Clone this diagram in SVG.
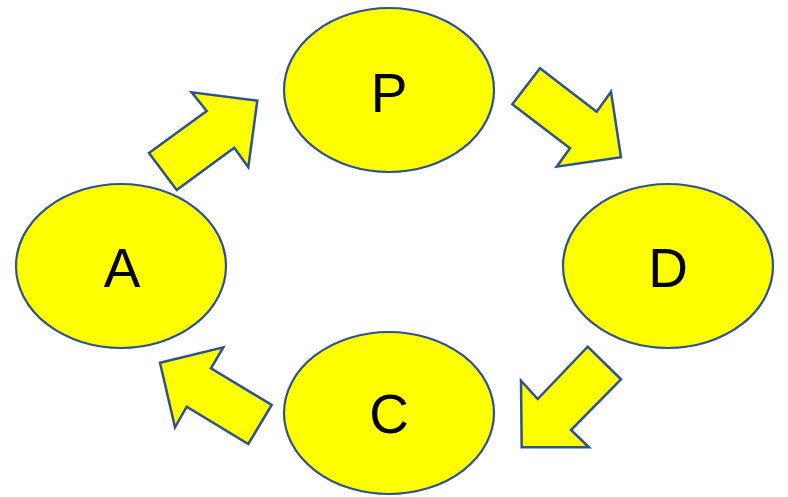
<svg xmlns="http://www.w3.org/2000/svg" width="788" height="497" viewBox="0 0 788 497">
<style>
.n{fill:#FFFF00;stroke:#2F528F;stroke-width:2.2}
.t{font-family:"Liberation Sans",Arial,sans-serif;font-size:55px;fill:#000;text-anchor:middle}
.a{fill:#FFFF00;stroke:#2F528F;stroke-width:2.5;stroke-linejoin:miter}
</style>
<rect width="788" height="497" fill="#fff"/>
<g id="connectors">
<polygon class="a" points="149,153 206.7,111 191.7,92.3 257.3,100.7 248.3,167.3 234.3,147.7 176.7,190"/>
<polygon class="a" points="512.3,104.3 540,68.3 596.7,111.7 611,91.7 621,157.3 556.7,166.7 570,148.3"/>
<polygon class="a" points="587.7,346.7 621,379.3 571,430 589,447.3 521.7,447.3 521,380.7 537.7,399"/>
<polygon class="a" points="160,362.7 223.3,347.3 211,368.3 271.7,405 248.3,444 186.7,406.7 175,427.3"/>
</g>
<g id="P"><ellipse class="n" cx="389" cy="90" rx="105" ry="82"/><text class="t" x="389" y="111.5">P</text></g>
<g id="A"><ellipse class="n" cx="121" cy="266" rx="105" ry="82"/><text class="t" x="122" y="286.5">A</text></g>
<g id="D"><ellipse class="n" cx="668" cy="266" rx="105" ry="82"/><text class="t" x="668" y="286.5">D</text></g>
<g id="C"><ellipse class="n" cx="389" cy="413" rx="105" ry="81"/><text class="t" x="389" y="433">C</text></g>
</svg>
